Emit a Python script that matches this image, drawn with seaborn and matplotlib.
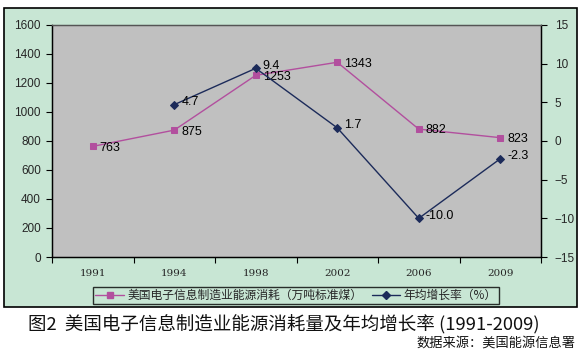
import matplotlib
matplotlib.use("Agg")
import matplotlib.pyplot as plt
from matplotlib.patches import Rectangle
from matplotlib.lines import Line2D
import seaborn as sns
import numpy as np

years = ["1991", "1994", "1998", "2002", "2006", "2009"]
energy = [763, 875, 1253, 1343, 882, 823]
growth = [np.nan, 4.7, 9.4, 1.7, -10.0, -2.3]
growth_labels = ["", "4.7", "9.4", "1.7", "-10.0", "-2.3"]
energy_name = "美国电子信息制造业能源消耗（万吨标准煤）"
growth_name = "年均增长率（%）"
title = "图2  美国电子信息制造业能源消耗量及年均增长率 (1991-2009)"
source = "数据来源：美国能源信息署"

sns.set_theme(style="white")
plt.rcParams["font.family"] = ["Liberation Sans", "Noto Sans CJK SC", "DejaVu Sans"]

pink = "#B24F9E"
navy = "#1C2B5A"
green_bg = "#C8E6D4"
gray_bg = "#C0C0C0"

fig = plt.figure(figsize=(5.83, 3.53), dpi=100)
fig.patch.set_facecolor("white")
bg = Rectangle((4/583, 1-307/353), 573/583, 299/353, transform=fig.transFigure,
               facecolor=green_bg, edgecolor="black", linewidth=1.2, zorder=-10)
fig.patches.append(bg)

ax = fig.add_axes([52/583, 1-257/353, 489/583, 232/353])
ax.set_facecolor(gray_bg)
ax2 = ax.twinx()

x = np.arange(len(years))
sns.lineplot(x=x, y=energy, ax=ax, color=pink, marker="s", markersize=5, linewidth=1.0,
             markeredgecolor=pink, legend=False)
gx = [xi for xi, g in zip(x, growth) if not np.isnan(g)]
gy = [g for g in growth if not np.isnan(g)]
sns.lineplot(x=gx, y=gy, ax=ax2, color=navy, marker="D", markersize=4, linewidth=1.0,
             markeredgecolor=navy, legend=False)

for xi, v in zip(x, energy):
    ax.annotate(str(v), (xi, v), xytext=(5, -1), textcoords="offset points",
                va="center", ha="left", fontsize=9, color="black")
for xi, g, lab in zip(x, growth, growth_labels):
    if lab:
        ax2.annotate(lab, (xi, g), xytext=(5, 2), textcoords="offset points",
                     va="center", ha="left", fontsize=9, color="black")

ax.set_xlim(-0.5, 5.5)
ax.set_ylim(0, 1600)
ax.set_yticks(np.arange(0, 1601, 200))
ax2.set_ylim(-15, 15)
ax2.set_yticks(np.arange(-15, 16, 5))

ax.set_xticks(np.arange(-0.5, 5.6, 1.0))
ax.set_xticklabels([])
ax.set_xticks(x, minor=True)
ax.set_xticklabels(years, minor=True, fontfamily="DejaVu Serif", fontsize=7.5)
ax.tick_params(axis="x", which="major", direction="out", length=4, width=0.8, color="black", bottom=True)
ax.tick_params(axis="x", which="minor", length=0, pad=9, bottom=True)
ax.tick_params(axis="y", direction="out", length=4, width=0.8, color="black", labelsize=8.5, left=True, pad=4)
ax2.tick_params(axis="y", direction="out", length=4, width=0.8, color="black", labelsize=8.5, right=True, pad=6)

for a in (ax, ax2):
    for s in a.spines.values():
        s.set_color("black")
        s.set_linewidth(0.9)
ax.spines["top"].set_color("#555555")
ax2.spines["top"].set_color("#555555")
ax.grid(False)
ax2.grid(False)
ax.set_xlabel("")
ax.set_ylabel("")
ax2.set_ylabel("")

handles = [
    Line2D([0], [0], color=pink, marker="s", markersize=5, linewidth=1.0),
    Line2D([0], [0], color=navy, marker="D", markersize=4, linewidth=1.0),
]
leg = fig.legend(handles, [energy_name, growth_name], loc="center",
                 bbox_to_anchor=(296/583, 1-295.5/353), ncol=2, frameon=True,
                 prop={"family": ["Noto Sans CJK SC", "DejaVu Sans"], "size": 8.5},
                 handlelength=2.4, columnspacing=0.8, handletextpad=0.3,
                 borderpad=0.2, fancybox=False)
leg.get_frame().set_edgecolor("black")
leg.get_frame().set_linewidth(1.0)
leg.get_frame().set_facecolor(green_bg)

fig.text(28/583, 1-325/353, title, ha="left", va="center", fontsize=13.3,
         family=["Noto Sans CJK SC", "DejaVu Sans"], weight="medium", color="#111111")
fig.text(575/583, 1-343/353, source, ha="right", va="center", fontsize=9.5,
         family=["Noto Sans CJK SC", "DejaVu Sans"], weight="medium", color="#111111")

fig.savefig("out.png", dpi=100, facecolor="white")
